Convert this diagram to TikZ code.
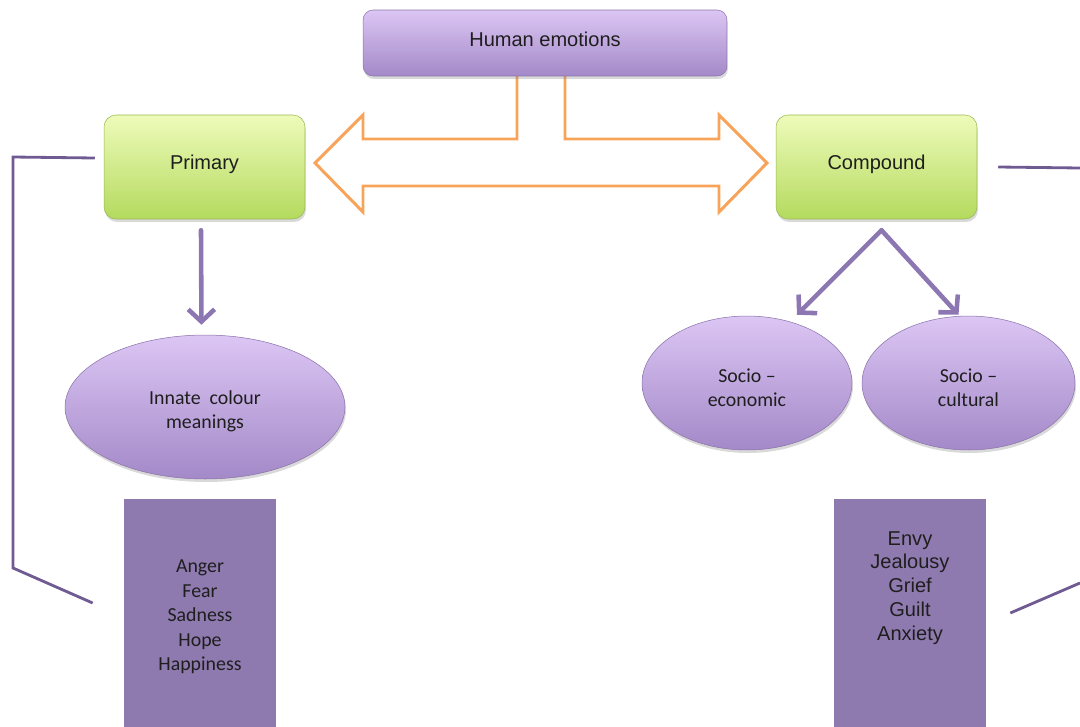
\documentclass[tikz,border=0pt]{standalone}
\usepackage{fontspec}
\setmainfont{Liberation Sans}
\newfontfamily\calibri{Carlito}
\usetikzlibrary{arrows.meta,shadows,shapes.geometric,positioning}

\definecolor{lilactop}{HTML}{DCC6F4}
\definecolor{lilacbot}{HTML}{A389C8}
\definecolor{limetop}{HTML}{EEFBBA}
\definecolor{limebot}{HTML}{B4DA5E}
\definecolor{peach}{HTML}{F8A35A}
\definecolor{plum}{HTML}{8C77B2}
\definecolor{plumbox}{HTML}{8F7AAF}
\definecolor{plumline}{HTML}{6F5B92}
\definecolor{ink}{HTML}{1E1E1E}

\newcommand{\ovalstrut}{\rule{0pt}{13pt}}

\tikzset{
  arialtxt/.style={font=\fontsize{11.4}{13.6}\selectfont, text=ink},
  calibritxt/.style={font=\calibri\fontsize{11.3}{13.9}\selectfont, text=ink},
  softshadow/.style={drop shadow={opacity=0.3, shadow xshift=0.02cm, shadow yshift=-0.06cm}},
  topbox/.style={rectangle, rounded corners=0.2cm, top color=lilactop, bottom color=lilacbot,
    draw=lilacbot!85!black, line width=0.3pt, minimum width=7.28cm, minimum height=1.32cm,
    inner sep=0pt, text depth=4.6pt, arialtxt, softshadow},
  kindbox/.style={rectangle, rounded corners=0.24cm, top color=limetop, bottom color=limebot,
    draw=limebot!85!black, line width=0.3pt, minimum width=4.02cm, minimum height=2.08cm,
    inner sep=0pt, text depth=5.5pt, arialtxt, softshadow},
  oval/.style={ellipse, top color=lilactop, bottom color=lilacbot, draw=lilacbot!85!black,
    line width=0.3pt, inner sep=0pt, minimum height=2.68cm, align=center, calibritxt, softshadow},
  listbox/.style={rectangle, fill=plumbox, minimum width=3.04cm, minimum height=4.56cm, inner sep=0pt},
  flow/.style={plum, line width=2.6pt, line cap=round, line join=round,
    -{Straight Barb[length=7pt,width=15pt]}},
  bracket/.style={plumline, line width=1.6pt},
  twoway/.style={peach, line width=1.7pt, line join=miter}
}

\begin{document}
\begin{tikzpicture}[x=0.02cm, y=-0.02cm]
  \useasboundingbox (0,0) rectangle (1080,727);

  % Orange two-way arrow below the title
  \draw[twoway] (517,76) -- (517,139) -- (363,139) -- (363,115) -- (315,163)
    -- (363,212) -- (363,186) -- (719,186) -- (719,212) -- (767,163)
    -- (719,115) -- (719,139) -- (565,139) -- (565,76);

  % Boxes
  \node[topbox] (top) at (545,43) {Human emotions};
  \node[kindbox] (primary) at (204.5,167) {Primary};
  \node[kindbox] (compound) at (876.5,167) {Compound};

  % Ovals
  \node[oval, minimum width=5.6cm, minimum height=2.88cm] (innate) at (205,407) {\ovalstrut Innate\ \ colour\\meanings};
  \node[oval, minimum width=4.2cm] (socioeco) at (747,383) {\ovalstrut Socio –\\economic};
  \node[oval, minimum width=4.26cm] (sociocult) at (968.5,383) {\ovalstrut Socio –\\cultural};

  % Lists of emotions
  \node[listbox] (angerbox) at (200,613) {};
  \node[calibritxt, align=center] (angerlist) at ([yshift=-0.08cm]angerbox.center)
    {Anger\\Fear\\Sadness\\Hope\\Happiness};
  \node[listbox] (envybox) at (910,613) {};
  \node[arialtxt, align=center] (envylist) at ([yshift=0.5cm]envybox.center)
    {Envy\\Jealousy\\Grief\\Guilt\\Anxiety};

  % Arrows
  \draw[flow, shorten >=0.2cm] ([xshift=-0.07cm,yshift=-0.22cm]primary.south) -- ([xshift=-0.07cm]innate.north);
  \coordinate (split) at ([xshift=0.1cm,yshift=-0.22cm]compound.south);
  \draw[flow] (split) -- ([xshift=1cm,yshift=0.02cm]socioeco.north);
  \draw[flow] (split) -- ([xshift=-0.2cm,yshift=0.02cm]sociocult.north);

  % Side brackets
  \coordinate (lefttop) at ([xshift=-0.18cm,yshift=0.18cm]primary.west);
  \coordinate (leftbot) at ([xshift=-0.62cm,yshift=0.2cm]angerbox.west);
  \draw[bracket] (lefttop) -- (13,157) -- (13,568) -- (leftbot);
  \draw[bracket] ([xshift=0.42cm]compound.east) -- (1080,168);
  \coordinate (rightbot) at ([xshift=0.48cm]envybox.east);
  \draw[bracket] (rightbot) -- (1080,583);
\end{tikzpicture}
\end{document}
